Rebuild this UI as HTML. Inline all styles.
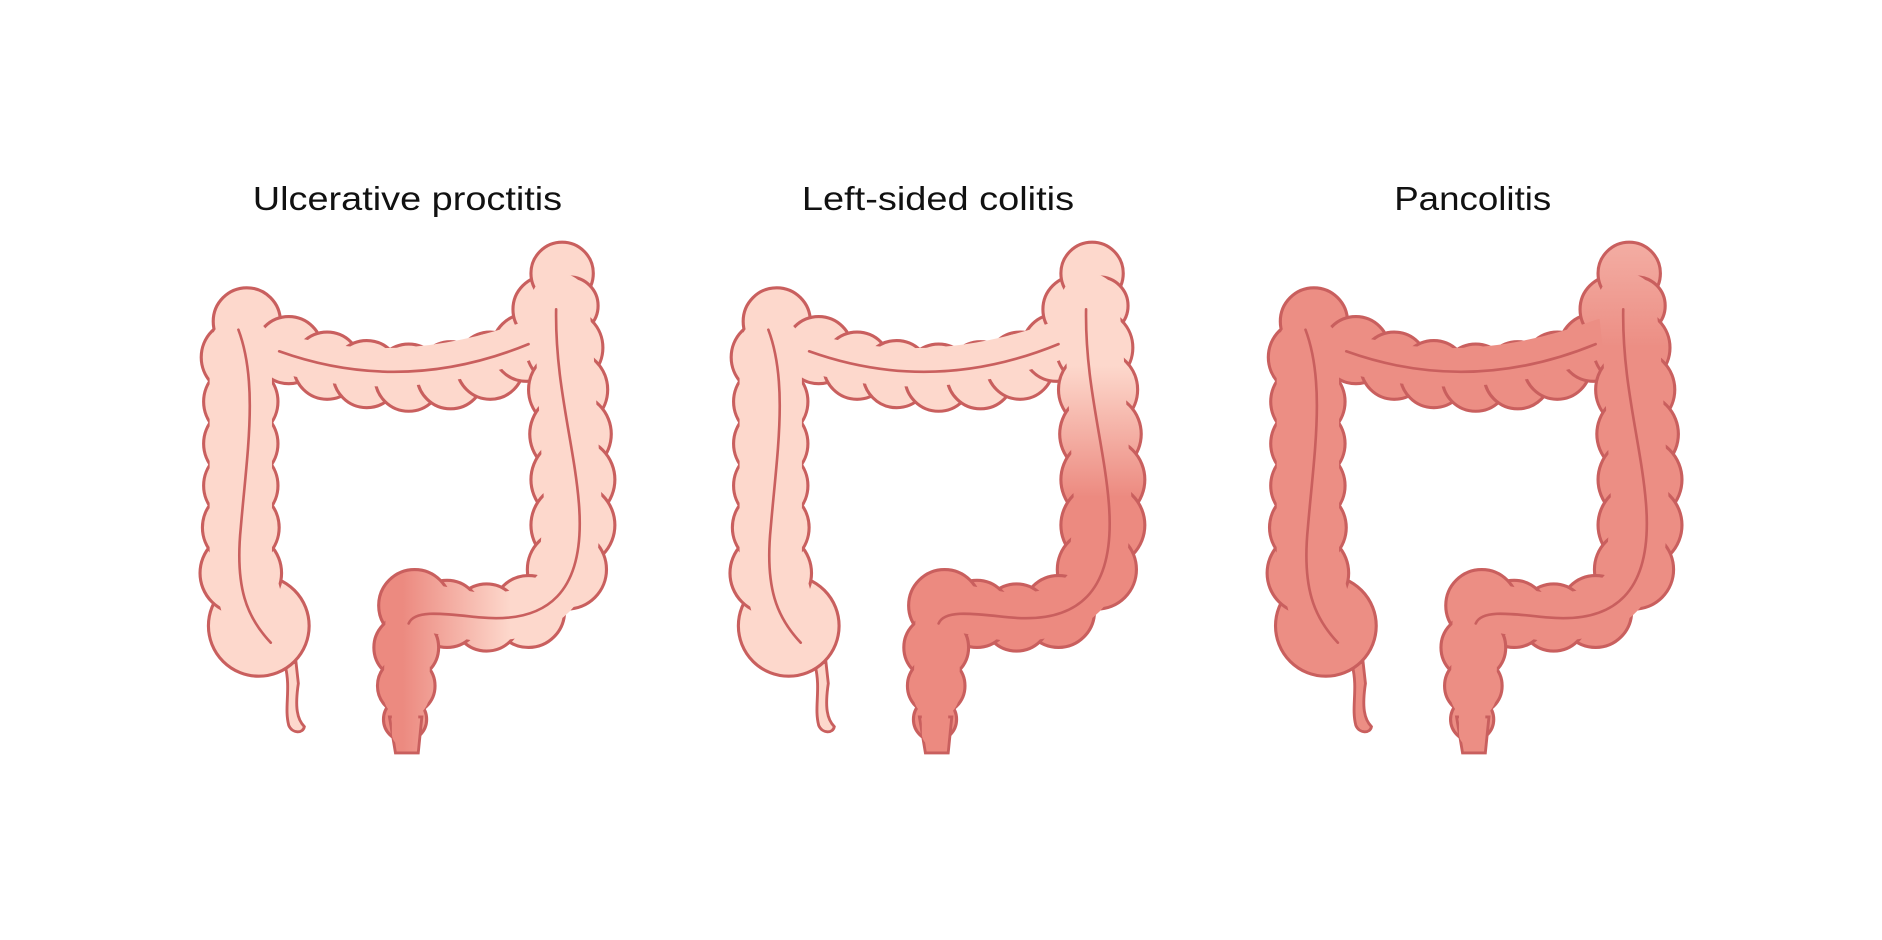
<!DOCTYPE html>
<html><head><meta charset="utf-8"><style>
html,body{margin:0;padding:0;background:#fff;width:1882px;height:940px;overflow:hidden}
svg{display:block}
text{font-family:"Liberation Sans",sans-serif;font-size:28px;fill:#111}
.o circle{stroke:#c95f5e;stroke-width:2.6}
.i path{fill:none;stroke-linecap:round;stroke-linejoin:round}
.ln{fill:none;stroke:#c95f5e;stroke-width:2.2;stroke-linecap:round}
</style></head><body>
<svg width="1882" height="940" viewBox="0 0 1568 784" xmlns="http://www.w3.org/2000/svg">
<defs>
<linearGradient id="g1" gradientUnits="userSpaceOnUse" x1="335" y1="0" x2="425" y2="0"><stop offset="0" stop-color="#ec8a80"/><stop offset="1" stop-color="#fdd8cc"/></linearGradient>
<linearGradient id="gv2" gradientUnits="userSpaceOnUse" x1="0" y1="305" x2="0" y2="415"><stop offset="0" stop-color="#fdd8cc"/><stop offset="1" stop-color="#ec8a80"/></linearGradient>
<linearGradient id="gv3" gradientUnits="userSpaceOnUse" x1="0" y1="205" x2="0" y2="290"><stop offset="0" stop-color="#f3aca2"/><stop offset="1" stop-color="#ec8e84"/></linearGradient>
</defs>
<text x="210" y="175" textLength="258" lengthAdjust="spacingAndGlyphs">Ulcerative proctitis</text>
<text x="668" y="175" textLength="227" lengthAdjust="spacingAndGlyphs">Left-sided colitis</text>
<text x="1162" y="175" textLength="131" lengthAdjust="spacingAndGlyphs">Pancolitis</text>

<g id="c1">
<path d="M237,555 C242,575 236,590 240,605 C243,612 252,612 253,606 C247,600 245,590 248,570 L246,552 Z" fill="#fdd8cc" stroke="#c95f5e" stroke-width="2.4"/>
<g class="o">
<g fill="#fdd8cc"><circle cx="215" cy="522" r="42"/><circle cx="200" cy="478" r="34"/><circle cx="200" cy="440" r="32"/><circle cx="200" cy="405" r="31"/><circle cx="200" cy="370" r="31"/><circle cx="200" cy="335" r="31"/><circle cx="198" cy="298" r="31"/><circle cx="205" cy="268" r="28"/></g>
<g fill="#fdd8cc"><circle cx="240" cy="292" r="28"/><circle cx="272" cy="305" r="28"/><circle cx="305" cy="312" r="28"/><circle cx="340" cy="315" r="28"/><circle cx="375" cy="313" r="28"/><circle cx="408" cy="305" r="28"/><circle cx="438" cy="290" r="28"/></g>
<g fill="#fdd8cc"><circle cx="455" cy="258" r="28"/><circle cx="468" cy="228" r="26"/><circle cx="474" cy="255" r="24"/><circle cx="470" cy="290" r="32"/><circle cx="473" cy="325" r="33"/><circle cx="475" cy="362" r="34"/><circle cx="477" cy="400" r="35"/><circle cx="477" cy="438" r="35"/><circle cx="472" cy="475" r="33"/></g>
<g fill="url(#g1)"><circle cx="440" cy="510" r="30"/><circle cx="405" cy="515" r="28"/><circle cx="372" cy="512" r="28"/><circle cx="345" cy="505" r="30"/><circle cx="338" cy="540" r="27"/><circle cx="338" cy="572" r="24"/><circle cx="337" cy="600" r="18"/></g>
</g>
<path d="M324,598 L351,598 L348,628 L329,628 Z" fill="url(#g1)" stroke="#c95f5e" stroke-width="2.4"/>
<g class="i">
<path d="M215,525 L200,470 L200,290" stroke="#fdd8cc" stroke-width="52"/>
<path d="M225,292 Q330,325 445,282" stroke="#fdd8cc" stroke-width="32"/>
<path d="M466,252 L470,290 L477,420 L472,480" stroke="#fdd8cc" stroke-width="48"/>
<path d="M472,475 Q460,515 400,515 L345,505" stroke="url(#g1)" stroke-width="40"/>
<path d="M340,505 L338,580" stroke="url(#g1)" stroke-width="38"/>
<path d="M337,580 L337,612" stroke="url(#g1)" stroke-width="22"/>
</g>
<path class="ln" d="M198,275 C215,320 205,380 200,440 C195,490 205,515 225,536"/>
<path class="ln" d="M232,293 Q335,330 440,287"/>
<path class="ln" d="M463,258 C462,320 478,370 482,420 C488,495 455,520 400,515 C370,512 345,508 340,520"/>
</g>

<g transform="translate(442,0)">
<path d="M237,555 C242,575 236,590 240,605 C243,612 252,612 253,606 C247,600 245,590 248,570 L246,552 Z" fill="#fdd8cc" stroke="#c95f5e" stroke-width="2.4"/>
<g class="o">
<g fill="#fdd8cc"><circle cx="215" cy="522" r="42"/><circle cx="200" cy="478" r="34"/><circle cx="200" cy="440" r="32"/><circle cx="200" cy="405" r="31"/><circle cx="200" cy="370" r="31"/><circle cx="200" cy="335" r="31"/><circle cx="198" cy="298" r="31"/><circle cx="205" cy="268" r="28"/></g>
<g fill="#fdd8cc"><circle cx="240" cy="292" r="28"/><circle cx="272" cy="305" r="28"/><circle cx="305" cy="312" r="28"/><circle cx="340" cy="315" r="28"/><circle cx="375" cy="313" r="28"/><circle cx="408" cy="305" r="28"/><circle cx="438" cy="290" r="28"/></g>
<g fill="url(#gv2)"><circle cx="455" cy="258" r="28"/><circle cx="468" cy="228" r="26"/><circle cx="474" cy="255" r="24"/><circle cx="470" cy="290" r="32"/><circle cx="473" cy="325" r="33"/><circle cx="475" cy="362" r="34"/><circle cx="477" cy="400" r="35"/><circle cx="477" cy="438" r="35"/><circle cx="472" cy="475" r="33"/></g>
<g fill="#ec8a80"><circle cx="440" cy="510" r="30"/><circle cx="405" cy="515" r="28"/><circle cx="372" cy="512" r="28"/><circle cx="345" cy="505" r="30"/><circle cx="338" cy="540" r="27"/><circle cx="338" cy="572" r="24"/><circle cx="337" cy="600" r="18"/></g>
</g>
<path d="M324,598 L351,598 L348,628 L329,628 Z" fill="#ec8a80" stroke="#c95f5e" stroke-width="2.4"/>
<g class="i">
<path d="M215,525 L200,470 L200,290" stroke="#fdd8cc" stroke-width="52"/>
<path d="M225,292 Q330,325 445,282" stroke="#fdd8cc" stroke-width="32"/>
<path d="M466,252 L470,290 L477,420 L472,480" stroke="url(#gv2)" stroke-width="48"/>
<path d="M472,475 Q460,515 400,515 L345,505" stroke="#ec8a80" stroke-width="40"/>
<path d="M340,505 L338,580" stroke="#ec8a80" stroke-width="38"/>
<path d="M337,580 L337,612" stroke="#ec8a80" stroke-width="22"/>
</g>
<path class="ln" d="M198,275 C215,320 205,380 200,440 C195,490 205,515 225,536"/>
<path class="ln" d="M232,293 Q335,330 440,287"/>
<path class="ln" d="M463,258 C462,320 478,370 482,420 C488,495 455,520 400,515 C370,512 345,508 340,520"/>
</g>

<g transform="translate(890,0)">
<path d="M237,555 C242,575 236,590 240,605 C243,612 252,612 253,606 C247,600 245,590 248,570 L246,552 Z" fill="#ec8e84" stroke="#c95f5e" stroke-width="2.4"/>
<g class="o">
<g fill="#ec8e84"><circle cx="215" cy="522" r="42"/><circle cx="200" cy="478" r="34"/><circle cx="200" cy="440" r="32"/><circle cx="200" cy="405" r="31"/><circle cx="200" cy="370" r="31"/><circle cx="200" cy="335" r="31"/><circle cx="198" cy="298" r="31"/><circle cx="205" cy="268" r="28"/></g>
<g fill="#ec8e84"><circle cx="240" cy="292" r="28"/><circle cx="272" cy="305" r="28"/><circle cx="305" cy="312" r="28"/><circle cx="340" cy="315" r="28"/><circle cx="375" cy="313" r="28"/><circle cx="408" cy="305" r="28"/><circle cx="438" cy="290" r="28"/></g>
<g fill="url(#gv3)"><circle cx="455" cy="258" r="28"/><circle cx="468" cy="228" r="26"/><circle cx="474" cy="255" r="24"/><circle cx="470" cy="290" r="32"/><circle cx="473" cy="325" r="33"/><circle cx="475" cy="362" r="34"/><circle cx="477" cy="400" r="35"/><circle cx="477" cy="438" r="35"/><circle cx="472" cy="475" r="33"/></g>
<g fill="#ec8e84"><circle cx="440" cy="510" r="30"/><circle cx="405" cy="515" r="28"/><circle cx="372" cy="512" r="28"/><circle cx="345" cy="505" r="30"/><circle cx="338" cy="540" r="27"/><circle cx="338" cy="572" r="24"/><circle cx="337" cy="600" r="18"/></g>
</g>
<path d="M324,598 L351,598 L348,628 L329,628 Z" fill="#ec8e84" stroke="#c95f5e" stroke-width="2.4"/>
<g class="i">
<path d="M215,525 L200,470 L200,290" stroke="#ec8e84" stroke-width="52"/>
<path d="M225,292 Q330,325 445,282" stroke="#ec8e84" stroke-width="32"/>
<path d="M466,252 L470,290 L477,420 L472,480" stroke="url(#gv3)" stroke-width="48"/>
<path d="M472,475 Q460,515 400,515 L345,505" stroke="#ec8e84" stroke-width="40"/>
<path d="M340,505 L338,580" stroke="#ec8e84" stroke-width="38"/>
<path d="M337,580 L337,612" stroke="#ec8e84" stroke-width="22"/>
</g>
<path class="ln" d="M198,275 C215,320 205,380 200,440 C195,490 205,515 225,536"/>
<path class="ln" d="M232,293 Q335,330 440,287"/>
<path class="ln" d="M463,258 C462,320 478,370 482,420 C488,495 455,520 400,515 C370,512 345,508 340,520"/>
</g>
</svg>
</body></html>
